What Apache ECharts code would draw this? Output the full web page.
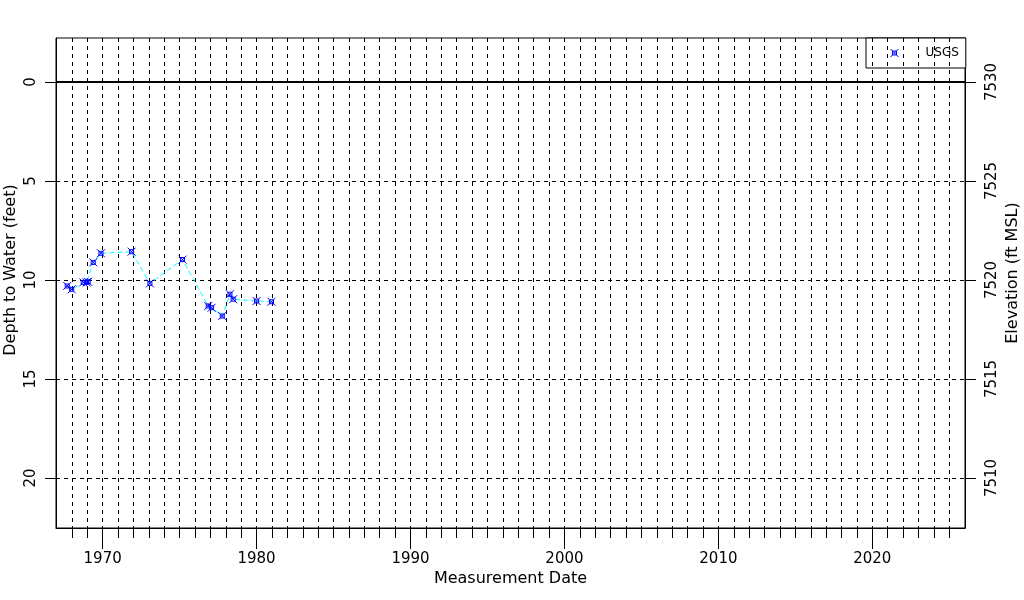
<!DOCTYPE html>
<html>
<head>
<meta charset="utf-8">
<script src="https://cdn.jsdelivr.net/npm/echarts@6/dist/echarts.min.js"></script>
<style>html,body{margin:0;padding:0;background:#fff}#c{width:1024px;height:600px}</style>
</head>
<body>
<div id="c"></div>
<script>
// Data
var seriesName = 'USGS';
var years = [1967.70, 1967.99, 1968.74, 1968.96, 1969.06, 1969.39, 1969.89, 1971.88, 1973.07, 1975.19, 1976.86, 1977.08, 1977.77, 1978.27, 1978.48, 1980.00, 1980.97];
var depths = [10.30, 10.47, 10.12, 10.12, 10.09, 9.11, 8.65, 8.57, 10.17, 8.97, 11.31, 11.40, 11.82, 10.72, 10.97, 11.06, 11.10];
var decadeTicks = [1970, 1980, 1990, 2000, 2010, 2020];
var yearTicks = [];
for (var y = 1968; y <= 2025; y++) yearTicks.push(y);
var depthTicks = [0, 5, 10, 15, 20];
var elevTicks = [7510, 7515, 7520, 7525, 7530];
var landElevation = 7530;

var xMin = 1966.97, xMax = 2026.02;
var dMin = -2.222, dMax = 22.525;

var markerPath = 'path://M0 0L8 8M8 0L0 8M2 2L6 2L6 6L2 6Z';
var FONT = 'DejaVu Sans';

var pts = years.map(function (t, i) { return [t, depths[i]]; });

var vGrid = yearTicks.map(function (t) { return { xAxis: t }; });
var hGrid = [5, 10, 15, 20].map(function (d) { return { yAxis: d }; });

var chart = echarts.init(document.getElementById('c'), null, { renderer: 'canvas' });
chart.setOption({
  animation: false,
  backgroundColor: '#ffffff',
  grid: { left: 56, right: 59, top: 38, bottom: 72, containLabel: false, outerBoundsMode: 'none', show: true, borderColor: '#000', borderWidth: 1, backgroundColor: 'transparent' },
  legend: {
    show: true,
    left: 866, top: 38,
    padding: [8, 7, 8, 24],
    borderColor: '#000', borderWidth: 1, borderRadius: 0,
    backgroundColor: '#fff',
    itemWidth: 8, itemHeight: 8,
    data: [{ name: seriesName, icon: markerPath, itemStyle: { color: 'rgba(0,0,0,0)', borderColor: '#0000ff', borderWidth: 1 } }],
    textStyle: { fontFamily: FONT, fontSize: 12, color: '#000', lineHeight: 14, padding: [0, 0, 0, 22] }
  },
  xAxis: [
    {
      type: 'value', min: xMin, max: xMax, position: 'bottom',
      name: 'Measurement Date', nameLocation: 'middle', nameGap: 43, nameMoveOverlap: false,
      nameTextStyle: { fontFamily: FONT, fontSize: 16, color: '#000' },
      axisLine: { show: true, onZero: false, lineStyle: { color: '#000', width: 1 } },
      axisTick: { show: true, customValues: decadeTicks, length: 21, lineStyle: { color: '#000' } },
      axisLabel: { show: true, customValues: decadeTicks, margin: 24, fontFamily: FONT, fontSize: 15, color: '#000', formatter: function (v) { return String(v); } },
      splitLine: { show: false }
    },
    {
      type: 'value', min: xMin, max: xMax, position: 'bottom',
      axisLine: { show: false, onZero: false },
      axisTick: { show: true, customValues: yearTicks, length: 10, lineStyle: { color: '#000' } },
      axisLabel: { show: false },
      splitLine: { show: false }
    }
  ],
  yAxis: [
    {
      type: 'value', inverse: true, min: dMin, max: dMax, position: 'left',
      name: 'Depth to Water (feet)', nameLocation: 'middle', nameGap: 37, nameRotate: 90, nameMoveOverlap: false,
      nameTextStyle: { fontFamily: FONT, fontSize: 16, color: '#000', padding: [0, 0, 0, 26] },
      axisLine: { show: true, onZero: false, lineStyle: { color: '#000' } },
      axisTick: { show: true, customValues: depthTicks, length: 11, lineStyle: { color: '#000' } },
      axisLabel: { show: true, customValues: depthTicks, rotate: 90, margin: 17, fontFamily: FONT, fontSize: 15, color: '#000', formatter: function (v) { return String(v); } },
      splitLine: { show: false }
    },
    {
      type: 'value', min: landElevation - dMax, max: landElevation - dMin, position: 'right',
      name: 'Elevation (ft MSL)', nameLocation: 'middle', nameGap: 40, nameRotate: 90, nameMoveOverlap: false,
      nameTextStyle: { fontFamily: FONT, fontSize: 16, color: '#000', padding: [0, 0, 0, 20] },
      axisLine: { show: true, onZero: false, lineStyle: { color: '#000' } },
      axisTick: { show: true, customValues: elevTicks, length: 11, lineStyle: { color: '#000' } },
      axisLabel: { show: true, customValues: elevTicks, rotate: 90, margin: 20, fontFamily: FONT, fontSize: 15, color: '#000', formatter: function (v) { return String(v); } },
      splitLine: { show: false }
    }
  ],
  series: [
    {
      name: 'grid', type: 'line', xAxisIndex: 0, yAxisIndex: 0, data: [], z: 1, silent: true,
      markLine: {
        silent: true, symbol: 'none', animation: false,
        label: { show: false },
        lineStyle: { color: '#000', type: [4, 4], width: 1 },
        data: vGrid.concat(hGrid).concat([{ yAxis: 0, lineStyle: { type: 'solid', width: 2, color: '#000' } }])
      }
    },
    {
      name: seriesName, type: 'line', xAxisIndex: 0, yAxisIndex: 0, z: 5,
      data: pts,
      symbol: markerPath, symbolSize: 8, showAllSymbol: true,
      lineStyle: { color: '#00ffff', width: 1, type: [5, 3] },
      itemStyle: { color: 'rgba(0,0,0,0)', borderColor: '#0000ff', borderWidth: 1 }
    }
  ]
});
</script>
</body>
</html>
